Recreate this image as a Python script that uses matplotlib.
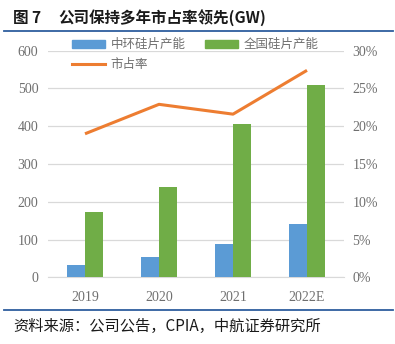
import matplotlib
matplotlib.use("Agg")
import matplotlib.pyplot as plt
import numpy as np
from matplotlib.lines import Line2D

plt.rcParams['font.family'] = ['Noto Sans CJK SC', 'DejaVu Sans']

categories = ['2019', '2020', '2021', '2022E']
zhonghuan = [33, 55, 88, 140]
national = [172, 240, 406, 509]
share = [19.0, 22.9, 21.6, 27.4]
left_ticks = [0, 100, 200, 300, 400, 500, 600]
right_ticks = [0, 5, 10, 15, 20, 25, 30]

blue = '#5B9BD5'
green = '#70AD47'
orange = '#ED7D31'
tick_color = '#6f6f6f'
num_font = ['Liberation Serif', 'DejaVu Serif']

fig = plt.figure(figsize=(3.95, 3.44), dpi=100)
ax = fig.add_axes([48/395, 1-277.3/344, 296/395, 226.6/344])
ax2 = ax.twinx()

x = np.arange(len(categories))
w = 0.24
ax.bar(x - w/2, zhonghuan, w, color=blue, zorder=3, label='中环硅片产能')
ax.bar(x + w/2, national, w, color=green, zorder=3, label='全国硅片产能')
ax.set_xlim(-0.5, 3.5)
ax.set_ylim(0, 600)
ax.set_yticks(left_ticks)
ax.set_yticklabels([str(t) for t in left_ticks], family=num_font, fontsize=10, color=tick_color)
ax.set_xticks(x)
ax.set_xticklabels(categories, family=num_font, fontsize=10, color=tick_color)
ax.grid(axis='y', color='#d9d9d9', linewidth=0.9, zorder=0)
ax.tick_params(length=0, pad=7)
ax.tick_params(axis='x', pad=10)
for s in ax.spines.values():
    s.set_visible(False)
ax.spines['bottom'].set_visible(True)
ax.spines['bottom'].set_color('#d9d9d9')

ax2.plot(x, share, color=orange, linewidth=2.2, zorder=4, solid_capstyle='butt')
ax2.set_ylim(0, 30)
ax2.set_yticks(right_ticks)
ax2.set_yticklabels([f'{t}%' for t in right_ticks], family=num_font, fontsize=10, color=tick_color)
ax2.tick_params(length=0, pad=6)
for s in ax2.spines.values():
    s.set_visible(False)

handles = [
    plt.Rectangle((0, 0), 1, 1, color=blue),
    Line2D([0], [0], color=orange, linewidth=2.2),
    plt.Rectangle((0, 0), 1, 1, color=green),
]
labels = ['中环硅片产能', '市占率', '全国硅片产能']
leg = fig.legend(handles, labels, ncol=2, loc='upper left', bbox_to_anchor=(66/395, 1-32/344),
                 frameon=False, fontsize=9, handlelength=2.6, handleheight=0.7,
                 columnspacing=1.6, labelspacing=0.55, handletextpad=0.45, borderpad=0)
for t in leg.get_texts():
    t.set_color(tick_color)

# title
fig.text(13/395, 1-18/344, '图 7', fontsize=11.2, fontweight='bold', va='center', ha='left', color='#1a1a1a')
fig.text(58/395, 1-18/344, '公司保持多年市占率领先(GW)', fontsize=11.2, fontweight='bold', va='center', ha='left', color='#1a1a1a')

line_color = '#2E5E9E'
fig.add_artist(Line2D([4/395, 393/395], [1-30.5/344, 1-30.5/344], color=line_color, linewidth=1.3))
fig.add_artist(Line2D([4/395, 393/395], [1-309.5/344, 1-309.5/344], color=line_color, linewidth=1.3))

fig.text(13/395, 1-326/344, '资料来源：公司公告，CPIA，中航证券研究所', fontsize=11, va='center', ha='left', color='#1a1a1a')

fig.savefig('out.png', dpi=100)
